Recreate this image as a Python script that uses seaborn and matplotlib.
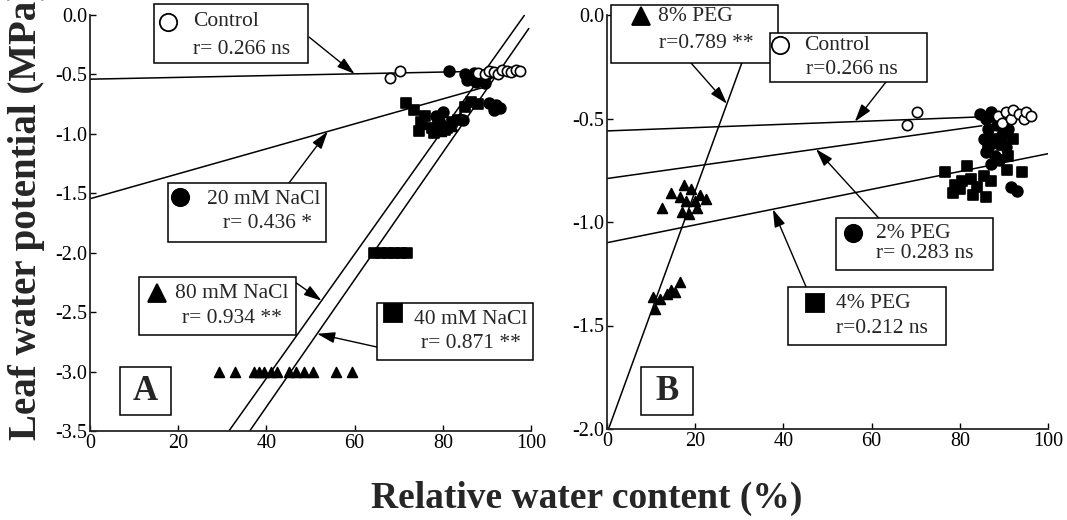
import numpy as np
import pandas as pd
import matplotlib
matplotlib.use("Agg")
import matplotlib.pyplot as plt
from matplotlib.patches import Rectangle
from matplotlib.lines import Line2D
import seaborn as sns

# ---------------- data: panel A (NaCl) ----------------
a_control_x = [68.0, 70.3, 88.0, 89.5, 90.5, 91.5, 92.5, 93.5, 94.5, 95.5, 96.5, 97.5]
a_control_y = [-0.53, -0.47, -0.49, -0.50, -0.47, -0.48, -0.50, -0.46, -0.47, -0.48, -0.46, -0.47]
a_nacl20_x = [81.3, 85.0, 86.0, 87.0, 88.0, 89.0, 90.0, 91.0, 85.5, 87.5, 89.5, 92.0, 93.0, 91.5, 90.5, 84.5, 78.5, 80.0]
a_nacl20_y = [-0.47, -0.50, -0.52, -0.49, -0.50, -0.53, -0.50, -0.48, -0.55, -0.56, -0.57, -0.76, -0.78, -0.80, -0.74, -0.88, -0.85, -0.82]
a_nacl40_x = [71.6, 73.5, 75.0, 76.0, 77.5, 79.0, 80.5, 82.0, 74.5, 78.0, 81.0, 83.5, 85.0, 86.5, 88.0,
              64.5, 66.0, 67.5, 69.0, 70.5, 71.8]
a_nacl40_y = [-0.74, -0.80, -0.90, -0.85, -0.95, -0.92, -0.97, -0.90, -0.98, -0.99, -0.95, -0.88, -0.77, -0.73, -0.75,
              -2.0, -2.0, -2.0, -2.0, -2.0, -2.0]
a_nacl80_x = [29.2, 32.9, 37.3, 38.4, 39.5, 41.0, 42.5, 45.2, 46.7, 48.6, 50.5, 55.8, 59.5,
              76.0, 78.0, 80.0, 82.0, 79.5, 84.0]
a_nacl80_y = [-3.0] * 13 + [-0.92, -0.95, -0.90, -0.93, -0.98, -0.86]

# regression lines panel A: intercept, slope, x start, x end
a_line_names = ["Control", "20 mM NaCl", "80 mM NaCl", "40 mM NaCl"]
a_line_b0 = [-0.54, -1.546, -5.144, -5.437]
a_line_b1 = [0.00075, 0.0105, 0.0522, 0.0535]
a_line_x0 = [0.0, 0.0, 31.5, 36.2]
a_line_x1 = [97.5, 90.0, 98.5, 99.5]

# ---------------- data: panel B (PEG) ----------------
b_control_x = [68.1, 70.4, 88.7, 89.5, 90.5, 91.5, 92.0, 93.5, 94.5, 95.0, 96.2]
b_control_y = [-0.53, -0.47, -0.49, -0.52, -0.47, -0.50, -0.46, -0.48, -0.50, -0.47, -0.49]
b_peg2_x = [84.5, 86.0, 87.0, 88.0, 86.5, 88.5, 90.0, 85.5, 87.5, 89.5, 91.0, 86.0, 88.0, 90.5, 87.0, 89.0, 91.5, 93.0]
b_peg2_y = [-0.48, -0.50, -0.47, -0.49, -0.55, -0.53, -0.51, -0.60, -0.62, -0.58, -0.55, -0.66, -0.68, -0.64, -0.72, -0.70, -0.83, -0.85]
b_peg4_x = [76.7, 79.0, 80.5, 81.6, 78.5, 80.0, 82.5, 84.0, 83.0, 85.5, 87.0, 90.7, 94.1, 86.0, 88.5, 92.0, 88.0, 86.5, 89.5, 91.0]
b_peg4_y = [-0.76, -0.82, -0.80, -0.73, -0.86, -0.84, -0.79, -0.83, -0.87, -0.78, -0.80, -0.75, -0.76, -0.88, -0.70, -0.60, -0.60, -0.65, -0.63, -0.68]
b_peg8_x = [12.5, 14.6, 16.5, 17.5, 18.0, 19.0, 20.0, 21.0, 22.5, 17.0, 18.5, 20.5,
            10.4, 10.8, 12.0, 13.5, 14.5, 15.5, 16.5]
b_peg8_y = [-0.93, -0.86, -0.88, -0.82, -0.90, -0.84, -0.90, -0.87, -0.89, -0.95, -0.96, -0.93,
            -1.36, -1.42, -1.37, -1.35, -1.33, -1.34, -1.29]

b_line_names = ["Control", "2% PEG", "4% PEG", "8% PEG"]
b_line_b0 = [-0.56, -0.79, -1.10, -2.02]
b_line_b1 = [0.0008, 0.0030, 0.0043, 0.0585]
b_line_x0 = [0.0, 0.0, 0.0, 0.2]
b_line_x1 = [97.0, 85.0, 100.0, 31.0]

a_xticks = [0, 20, 40, 60, 80, 100]
a_yticks = [0.0, -0.5, -1.0, -1.5, -2.0, -2.5, -3.0, -3.5]
b_xticks = [0, 20, 40, 60, 80, 100]
b_yticks = [0.0, -0.5, -1.0, -1.5, -2.0]

# ---------------- style ----------------
sns.set_theme(style="ticks")
plt.rcParams["font.family"] = ["Liberation Serif", "DejaVu Sans"]
plt.rcParams["axes.linewidth"] = 1.3

W, H = 1067, 520
fig = plt.figure(figsize=(W / 100, H / 100), dpi=100)
fig.patch.set_facecolor("white")


def ax_rect(l, t, r, b):
    return [l / W, 1 - b / H, (r - l) / W, (b - t) / H]


axA = fig.add_axes(ax_rect(90, 15, 531, 431))
axB = fig.add_axes(ax_rect(607, 15, 1048, 429))


def lines_df(names, b0, b1, x0, x1):
    rows = []
    for n, i0, s, xa, xb in zip(names, b0, b1, x0, x1):
        for xv in (xa, xb):
            rows.append({"name": n, "x": xv, "y": i0 + s * xv})
    return pd.DataFrame(rows)


def scatter(ax, xs, ys, marker, face, size):
    df = pd.DataFrame({"x": xs, "y": ys})
    sns.scatterplot(data=df, x="x", y="y", ax=ax, marker=marker, s=size,
                    color=face, edgecolor="black", linewidth=1.2, zorder=3, legend=False)


for ax, ldf in ((axA, lines_df(a_line_names, a_line_b0, a_line_b1, a_line_x0, a_line_x1)),
                (axB, lines_df(b_line_names, b_line_b0, b_line_b1, b_line_x0, b_line_x1))):
    for n, g in ldf.groupby("name", sort=False):
        sns.lineplot(data=g, x="x", y="y", ax=ax, color="black", lw=1.1, zorder=2,
                     legend=False, estimator=None, sort=False)

scatter(axA, a_nacl40_x, a_nacl40_y, "s", "black", 60)
scatter(axA, a_nacl20_x, a_nacl20_y, "o", "black", 60)
scatter(axA, a_nacl80_x, a_nacl80_y, "^", "black", 50)
scatter(axA, a_control_x, a_control_y, "o", "white", 55)

scatter(axB, b_peg4_x, b_peg4_y, "s", "black", 60)
scatter(axB, b_peg2_x, b_peg2_y, "o", "black", 60)
scatter(axB, b_peg8_x, b_peg8_y, "^", "black", 50)
scatter(axB, b_control_x, b_control_y, "o", "white", 55)

for ax, xt, yt, ylim in ((axA, a_xticks, a_yticks, (-3.5, 0)), (axB, b_xticks, b_yticks, (-2.0, 0))):
    ax.set_xlim(0, 100)
    ax.set_ylim(*ylim)
    ax.set_xticks(xt)
    ax.set_xticklabels([str(v) for v in xt])
    ax.set_yticks(yt)
    ax.set_yticklabels([f"{v:.1f}".replace("-0.0", "0.0") for v in yt])
    ax.set_xlabel("")
    ax.set_ylabel("")
    for s in ("top", "right"):
        ax.spines[s].set_visible(False)
    ax.tick_params(direction="in", length=4, width=1.0, labelsize=14.5, pad=2, colors="black")
    ax.set_facecolor("white")
    ax.patch.set_alpha(0)

# ---------------- annotation boxes (figure pixel layout) ----------------
BOX_FS = 15.5


def fx(px):
    return px / W


def fy(py):
    return 1 - py / H


def frame(l, t, r, b):
    fig.add_artist(Rectangle((fx(l), fy(b)), (r - l) / W, (b - t) / H, transform=fig.transFigure,
                             facecolor="white", edgecolor="black", lw=1.1, zorder=10))


def key(px, py, marker, filled, ms=12.5):
    fig.add_artist(Line2D([fx(px)], [fy(py)], transform=fig.transFigure, marker=marker,
                          markersize=ms, markerfacecolor="black" if filled else "white",
                          markeredgecolor="black", markeredgewidth=1.3, linestyle="none", zorder=11))


def label(px, py, txt, fs=BOX_FS, **kw):
    fig.text(fx(px), fy(py), txt, ha=kw.pop("ha", "left"), va="center", fontsize=fs, zorder=12, **kw)


def arrow(ax, tail_px, xdata, b0, b1):
    ax.annotate("", xy=(xdata, b0 + b1 * xdata), xycoords="data",
                xytext=(tail_px[0], H - tail_px[1]), textcoords="figure pixels",
                arrowprops=dict(arrowstyle="-|>,head_length=0.9,head_width=0.28",
                                color="black", lw=1.0, shrinkA=0, shrinkB=0),
                annotation_clip=False, zorder=9)


# panel A
frame(153.6, 4, 307.9, 62.7)
key(168, 21.7, "o", False)
label(193, 21.7, "Control")
label(193, 49, "r= 0.266 ns")

frame(167.9, 182.7, 325.7, 241.7)
key(180, 197, "o", True)
label(207, 199, "20 mM NaCl")
label(223, 224, "r= 0.436 *")

frame(138.6, 276.7, 296.4, 335)
key(157, 293, "^", True)
label(175, 293.3, "80 mM NaCl")
label(182, 318.3, "r= 0.934 **")

frame(376.8, 302.7, 533.2, 360)
key(393, 313.3, "s", True)
label(414, 319.3, "40 mM NaCl")
label(421, 343.3, "r= 0.871 **")

frame(119.6, 367.3, 170.7, 415)
label(145.2, 391.5, "A", fs=25, fontweight="bold", ha="center")

arrow(axA, (309, 37), 60.0, a_line_b0[0], a_line_b1[0])
arrow(axA, (289, 183), 53.9, a_line_b0[1], a_line_b1[1])
arrow(axA, (296.4, 283), 52.5, a_line_b0[2], a_line_b1[2])
arrow(axA, (376.8, 347), 51.5, a_line_b0[3], a_line_b1[3])

# panel B
frame(611.4, 5, 778.2, 62.7)
key(641.4, 15.7, "^", True)
label(657.8, 16.7, "8% PEG")
label(658.9, 43.3, "r=0.789 **")

frame(769.5, 33.3, 926.5, 81.7)
key(780, 45, "o", False)
label(804.4, 45, "Control")
label(806, 70, "r=0.266 ns")

frame(835.8, 218.3, 992.8, 270)
key(853, 233, "o", True)
label(876, 233, "2% PEG")
label(876, 254, "r= 0.283 ns")

frame(788, 286.7, 946.4, 345)
key(814.8, 302.7, "s", True)
label(835.8, 303.3, "4% PEG")
label(835.8, 328.3, "r=0.212 ns")

frame(641.4, 367.3, 692.7, 415)
label(667, 391.5, "B", fs=25, fontweight="bold", ha="center")

arrow(axB, (691, 63), 27.2, b_line_b0[3], b_line_b1[3])
arrow(axB, (886, 82), 56.2, b_line_b0[0], b_line_b1[0])
arrow(axB, (879, 218.3), 47.4, b_line_b0[1], b_line_b1[1])
arrow(axB, (806, 286.7), 37.6, b_line_b0[2], b_line_b1[2])

# ---------------- axis titles ----------------
fig.text(587 / W, 1 - 508 / H, "Relative water content (%)", ha="center", va="baseline",
         fontsize=27, fontweight="bold")
fig.text(27 / W, 1 - 440 / H, "Leaf water potential (MPa)", ha="center", va="bottom",
         rotation=90, fontsize=28, fontweight="bold")

fig.savefig("out.png", dpi=100, facecolor="white")
